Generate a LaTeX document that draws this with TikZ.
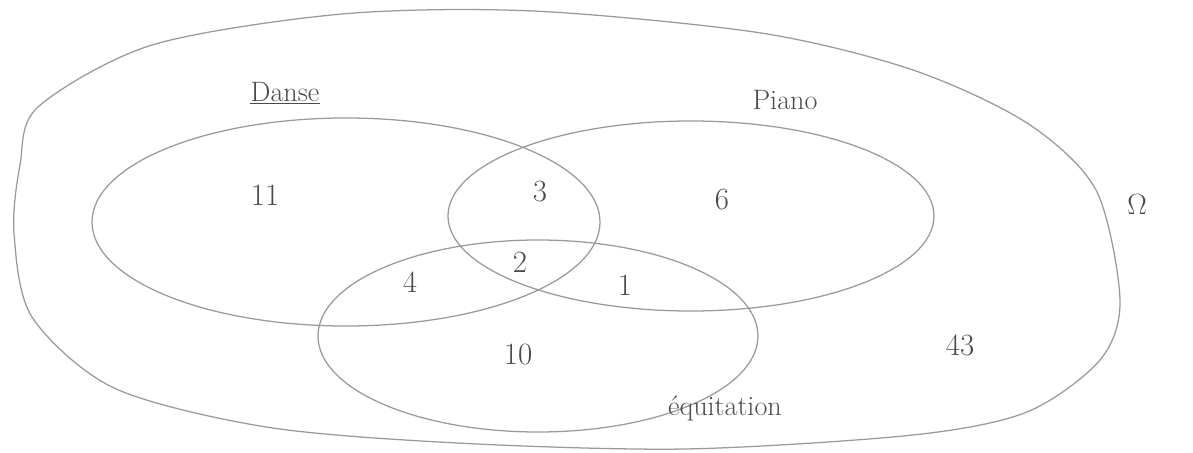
\documentclass[tikz,border=0pt]{standalone}
\usepackage{tikz}
\usetikzlibrary{positioning, calc}
\usepackage{xcolor}
\definecolor{pencil}{HTML}{9A9A9A}
\definecolor{lead}{HTML}{4A4A4A}

\tikzset{
  setline/.style={pencil, line width=0.9pt},
  label/.style={lead, font=\fontsize{20}{24}\selectfont},
  count/.style={lead, font=\fontsize{22}{26}\selectfont}
}

\begin{document}
\begin{tikzpicture}[x=0.025cm, y=-0.025cm]
        \useasboundingbox (0,0) rectangle (1193,453);
        % univers
        \draw[setline] plot[smooth cycle] coordinates {
          (38,107) (152,45) (342,14) (533,11) (761,33) (913,70) (1027,123)
          (1096,190) (1120,300) (1100,360) (1027,412) (913,435) (685,449)
          (457,443) (266,427) (114,388) (32,317) (14,233) (20,165)};
        % ensembles
        \draw[setline] (346,222) ellipse [x radius=254, y radius=104];
        \draw[setline] (691,216) ellipse [x radius=243, y radius=95];
        \draw[setline] (538,336) ellipse [x radius=220, y radius=96];
        \node[label] (danse) at (285,92) {Danse};
        \draw[lead, line width=0.7pt] ($(danse.south west)+(4,-3)$) -- ($(danse.south east)+(-4,-3)$);
        \node[label] (piano) at (785,100) {Piano};
        \node[label] (equit) at (725,408) {équitation};
        \node[count] (omega) at (1137,205) {$\Omega$};
        \node[count] (d) at (265,195) {11};
        \node[count] (dp) at (540,192) {3};
        \node[count] (p) at (722,200) {6};
        \node[count] (dpe) at (520,262) {2};
        \node[count] (de) at (410,282) {4};
        \node[count] (pe) at (625,285) {1};
        \node[count] (e) at (518,355) {10};
        \node[count] (none) at (960,345) {43};
      \end{tikzpicture}
\end{document}
